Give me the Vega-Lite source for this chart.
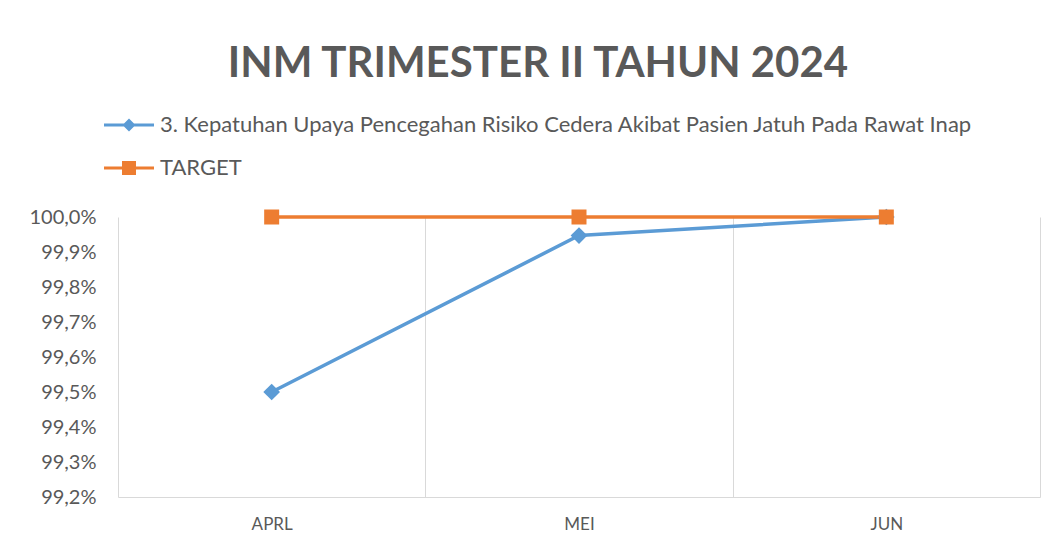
{
  "$schema": "https://vega.github.io/schema/vega-lite/v6.json",
  "width": 922,
  "height": 280,
  "autosize": {"type": "none"},
  "padding": {"left": 118, "top": 217, "right": 17, "bottom": 47},
  "background": "white",
  "title": {
    "text": "INM TRIMESTER II TAHUN 2024",
    "font": "Lato",
    "fontSize": 42,
    "fontWeight": "bold",
    "color": "#595959",
    "anchor": "middle",
    "dx": -41,
    "offset": 28,
    "frame": "group"
  },
  "data": {
    "values": [
      {"month": "APRL", "series": "3. Kepatuhan Upaya Pencegahan Risiko Cedera Akibat Pasien Jatuh Pada Rawat Inap", "value": 99.5},
      {"month": "MEI", "series": "3. Kepatuhan Upaya Pencegahan Risiko Cedera Akibat Pasien Jatuh Pada Rawat Inap", "value": 99.947},
      {"month": "JUN", "series": "3. Kepatuhan Upaya Pencegahan Risiko Cedera Akibat Pasien Jatuh Pada Rawat Inap", "value": 100.0},
      {"month": "APRL", "series": "TARGET", "value": 100.0},
      {"month": "MEI", "series": "TARGET", "value": 100.0},
      {"month": "JUN", "series": "TARGET", "value": 100.0}
    ]
  },
  "encoding": {
    "x": {
      "field": "month",
      "type": "nominal",
      "sort": ["APRL", "MEI", "JUN"],
      "axis": {
        "title": null,
        "labelAngle": 0,
        "tickBand": "extent",
        "grid": true,
        "gridColor": "#d9d9d9",
        "gridWidth": 1,
        "domain": true,
        "domainColor": "#d9d9d9",
        "ticks": false,
        "labelPadding": 19,
        "labelFont": "Lato",
        "labelFontSize": 17,
        "labelColor": "#595959"
      }
    },
    "y": {
      "field": "value",
      "type": "quantitative",
      "scale": {"domain": [99.2, 100.0], "nice": false, "zero": false},
      "axis": {
        "title": null,
        "values": [99.2, 99.3, 99.4, 99.5, 99.6, 99.7, 99.8, 99.9, 100.0],
        "labelExpr": "replace(format(datum.value, '.1f'), '.', ',') + '%'",
        "grid": false,
        "domain": false,
        "ticks": false,
        "labelPadding": 22,
        "labelFont": "Lato",
        "labelFontSize": 20,
        "labelColor": "#595959"
      }
    }
  },
  "layer": [
    {
      "transform": [{"filter": "datum.series !== 'TARGET'"}],
      "mark": {"type": "line", "strokeWidth": 3.5, "color": "#5B9BD5", "clip": false},
      "encoding": {}
    },
    {
      "transform": [{"filter": "datum.series === 'TARGET'"}],
      "mark": {"type": "line", "strokeWidth": 3.5, "color": "#ED7D31", "clip": false},
      "encoding": {}
    },
    {
      "transform": [{"filter": "datum.series !== 'TARGET'"}],
      "mark": {"type": "point", "shape": "diamond", "filled": true, "opacity": 1, "size": 280, "color": "#5B9BD5", "clip": false}
    },
    {
      "transform": [{"filter": "datum.series === 'TARGET'"}],
      "mark": {"type": "point", "shape": "square", "filled": true, "opacity": 1, "size": 225, "color": "#ED7D31", "clip": false}
    },
    {
      "mark": {"type": "point", "filled": true, "opacity": 0},
      "encoding": {
        "color": {
          "field": "series",
          "type": "nominal",
          "scale": {
            "domain": ["3. Kepatuhan Upaya Pencegahan Risiko Cedera Akibat Pasien Jatuh Pada Rawat Inap", "TARGET"],
            "range": ["#5B9BD5", "#ED7D31"]
          },
          "legend": {
            "orient": "top",
            "direction": "vertical",
            "offset": 38,
            "title": null,
            "padding": 0,
            "symbolSize": 400,
            "symbolOpacity": 1,
            "rowPadding": 21,
            "labelOffset": 20,
            "labelFont": "Lato",
            "labelFontSize": 22,
            "labelColor": "#595959",
            "labelLimit": 1000,
            "encode": {
              "symbols": {
                "update": {
                  "stroke": {"value": "transparent"},
                  "opacity": {"value": 1}
                }
              }
            }
          }
        },
        "shape": {
          "field": "series",
          "type": "nominal",
          "scale": {
            "domain": ["3. Kepatuhan Upaya Pencegahan Risiko Cedera Akibat Pasien Jatuh Pada Rawat Inap", "TARGET"],
            "range": [
              "M-2.5,-0.15H2.5V0.15H-2.5Z M0,-0.65L0.65,0L0,0.65L-0.65,0Z",
              "M-2.5,-0.15H2.5V0.15H-2.5Z M-0.7,-0.7H0.7V0.7H-0.7Z"
            ]
          },
          "legend": {
            "orient": "top",
            "direction": "vertical",
            "offset": 38,
            "title": null,
            "padding": 0,
            "symbolSize": 400,
            "symbolOpacity": 1,
            "rowPadding": 21,
            "labelOffset": 20,
            "labelFont": "Lato",
            "labelFontSize": 22,
            "labelColor": "#595959",
            "labelLimit": 1000,
            "encode": {
              "symbols": {
                "update": {
                  "stroke": {"value": "transparent"},
                  "opacity": {"value": 1}
                }
              }
            }
          }
        }
      }
    }
  ],
  "config": {
    "view": {"stroke": null}
  }
}
